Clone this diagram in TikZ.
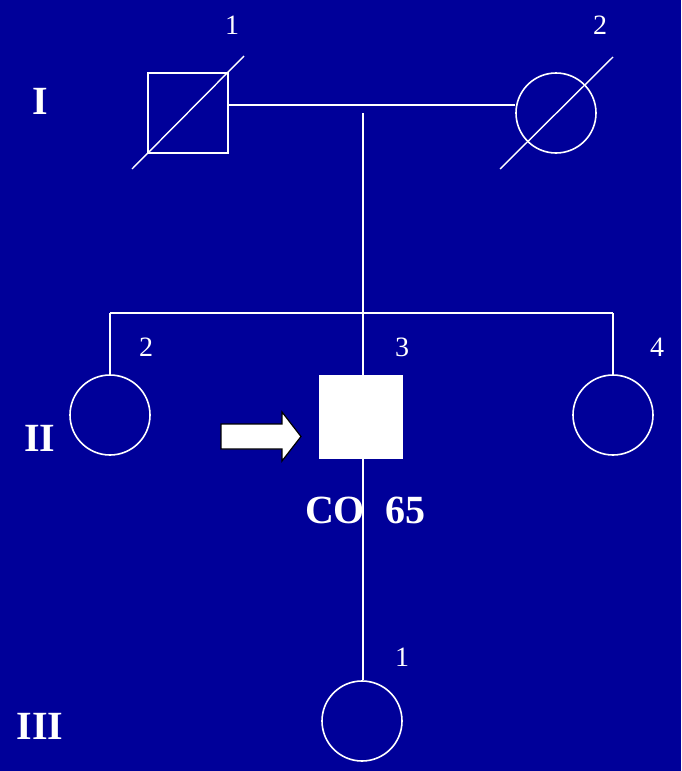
\documentclass[tikz,border=0pt]{standalone}
\usepackage{fontspec}
\setmainfont{Liberation Serif}
\usepackage{xcolor}
\usetikzlibrary{positioning, calc}
\definecolor{slide}{HTML}{000099}

\begin{document}
\begin{tikzpicture}[x=1pt, y=-1pt,
      every node/.style={align=center, text=white},
      male/.style={draw=white, line width=1.6pt, rectangle, minimum size=80pt, inner sep=0pt},
      female/.style={draw=white, line width=1.6pt, circle, minimum size=80pt, inner sep=0pt},
      link/.style={draw=white, line width=1.4pt},
      num/.style={font=\fontsize{28}{28}\selectfont, anchor=base},
      gen/.style={font=\fontsize{40}{40}\selectfont\bfseries, anchor=base}]

    % background and frame
    \fill[slide] (0,0) rectangle (681,771);
    \useasboundingbox (0,0) rectangle (681,771);

    % generation I
    \node[male] (i1) at (188,113) {};
    \node[female] (i2) at (556,113) {};
    \draw[link] (132,169) -- (244,56);
    \draw[link] (500,169) -- (613,57);

    % generation II
    \node[female] (ii2) at (110,415) {};
    \node[male, fill=white, minimum size=82pt] (ii3) at (361,417) {};
    \node[female] (ii4) at (613,415) {};

    % generation III
    \node[female] (iii1) at (362,721) {};

    % labels
    \node[num] (n1) at (232,34) {1};
    \node[num] (n2) at (600,34) {2};
    \node[num] (n3) at (146,356) {2};
    \node[num] (n4) at (402,356) {3};
    \node[num] (n5) at (657,356) {4};
    \node[num] (n6) at (402,666) {1};
    \node[gen] (g1) at (40,114) {I};
    \node[gen] (g2) at (40,451) {II};
    \node[gen] (g3) at (40,739) {III};
    \node[gen] (co) at (365,523) {CO\ \ 65};

    % lines of descent
    \coordinate (desc) at (363,113);
    \coordinate (sib) at (363,313);
    \draw[link] ([yshift=8pt]i1.east) -- ([yshift=8pt]i2.west);
    \draw[link] (desc) -- (sib);
    \draw[link] (ii2.north |- sib) -- (ii4.north |- sib);
    \draw[link] (ii2.north |- sib) -- (ii2.north);
    \draw[link] (ii4.north |- sib) -- (ii4.north);
    \draw[link] (sib) -- (sib |- ii3.north);
    \draw[link] (sib |- ii3.south) -- (sib |- iii1.north);

    % proband arrow
    \coordinate (arr) at (221,436.5);
    \draw[fill=white, draw=black, line width=1.2pt]
      (arr) ++(0,-12.5) -- ++(61,0) -- ++(0,-12) -- (301,436.5)
      -- (282,461) -- ++(0,-12) -- ++(-61,0) -- cycle;
  \end{tikzpicture}
\end{document}
